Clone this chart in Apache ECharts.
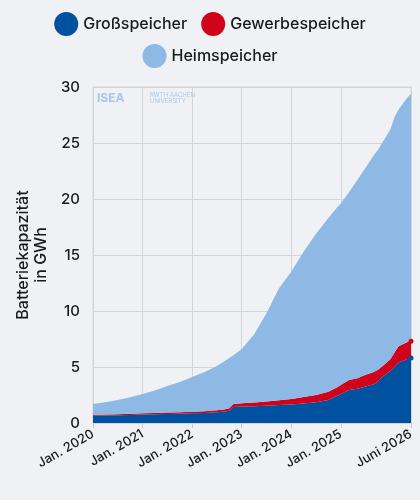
<!DOCTYPE html>
<html><head><meta charset="utf-8">
<script src="https://cdn.jsdelivr.net/npm/echarts@6/dist/echarts.min.js"></script>
<style>html,body{margin:0;padding:0;background:#f0f1f4;}#c{width:420px;height:500px;}</style>
</head><body><div id="c"></div>
<script>
// month index since Jan 2020
var months = [0,3,6,9,12,15,18,21,24,27,30,32,33,34,36,39,42,45,48,51,54,57,59,60,62,64,66,68,69,70,72,73,74,76,77];
var grossspeicher = [0.65,0.67,0.7,0.72,0.75,0.78,0.8,0.82,0.86,0.9,0.95,1.02,1.1,1.42,1.47,1.5,1.55,1.6,1.65,1.75,1.85,2.05,2.4,2.6,2.95,3.05,3.25,3.45,3.7,4.1,4.65,5.0,5.4,5.7,5.8];
var gewerbespeicher = [0.08,0.08,0.09,0.1,0.11,0.12,0.13,0.14,0.15,0.16,0.18,0.2,0.22,0.27,0.3,0.33,0.38,0.43,0.5,0.58,0.66,0.75,0.78,0.8,0.9,0.95,1.05,1.1,1.05,0.95,1.05,1.3,1.45,1.5,1.5];
var heimspeicher = [0.97,1.10,1.26,1.48,1.74,2.0,2.37,2.69,3.09,3.49,3.97,4.33,4.48,4.36,4.83,6.07,7.87,9.97,11.35,12.97,14.39,15.5,16.02,16.2,16.75,17.7,18.5,19.35,19.65,19.95,20.5,21.0,21.15,21.8,22.1];
var xTickMonths = [0,12,24,36,48,60,77];
var xTickLabels = ['Jan. 2020','Jan. 2021','Jan. 2022','Jan. 2023','Jan. 2024','Jan. 2025','Juni 2026'];
var yTicks = [0,5,10,15,20,25,30];
var MONTH_COUNT = 78;

var categories = [];
for (var k = 0; k < MONTH_COUNT; k++) categories.push(String(k));
function pairs(v){ return months.map(function(m,i){ return [m, v[i]]; }); }
function isTick(idx){ return xTickMonths.indexOf(idx) >= 0; }
var LAST = months.length - 1;
function endDot(val, p){ return p.dataIndex === LAST ? 5 : 0; }
var FONT = 'Inter, "Noto Sans", sans-serif';
var chart = echarts.init(document.getElementById('c'), null, {renderer:'canvas'});
chart.setOption({
  backgroundColor: '#f0f1f4',
  animation: false,
  textStyle: {fontFamily: FONT},
  legend: [{
    top: 7, left: 'center', itemGap: 14, icon: 'circle', itemWidth: 24, itemHeight: 24,
    textStyle: {fontSize: 16, fontWeight: 500, color: '#1a1a1a', fontFamily: FONT},
    data: ['Großspeicher','Gewerbespeicher']
  },{
    top: 39, left: 'center', icon: 'circle', itemWidth: 24, itemHeight: 24,
    textStyle: {fontSize: 16, fontWeight: 500, color: '#1a1a1a', fontFamily: FONT},
    data: ['Heimspeicher']
  }],
  grid: {left: 93, right: 9, top: 87, bottom: 77, show: true, borderColor: '#d3d4d8', borderWidth: 1},
  xAxis: {
    type: 'category', data: categories, boundaryGap: false,
    axisLine: {show: false},
    axisTick: {show: true, interval: function(i){ return isTick(i); }, length: 5, lineStyle: {color: '#c8c9cd'}},
    axisLabel: {
      interval: function(i){ return isTick(i); }, rotate: 30, fontSize: 13, fontWeight: 500, color: '#1a1a1a', margin: 10,
      formatter: function(v, i){ var j = xTickMonths.indexOf(i); return j >= 0 ? xTickLabels[j] : ''; }
    },
    splitLine: {show: true, interval: function(i){ return isTick(i); }, lineStyle: {color: '#d3d4d8', width: 1}}
  },
  yAxis: {
    type: 'value', min: 0, max: 30, interval: 5,
    name: 'Batteriekapazität\nin GWh', nameLocation: 'middle', nameGap: 41, nameRotate: 90,
    nameTextStyle: {fontSize: 16, fontWeight: 500, color: '#1a1a1a', lineHeight: 18, fontFamily: FONT},
    axisLine: {show: false}, axisTick: {show: false},
    axisLabel: {fontSize: 15, fontWeight: 500, color: '#1a1a1a', margin: 13},
    splitLine: {lineStyle: {color: '#d3d4d8', width: 1}}
  },
  series: [
    {name: 'Großspeicher', type: 'line', stack: 'total', data: pairs(grossspeicher), symbol: 'circle', symbolSize: endDot,
     lineStyle: {width: 0}, areaStyle: {color: '#00519f', opacity: 1}, itemStyle: {color: '#00519f'}},
    {name: 'Gewerbespeicher', type: 'line', stack: 'total', data: pairs(gewerbespeicher), symbol: 'circle', symbolSize: endDot,
     lineStyle: {width: 0}, areaStyle: {color: '#d0031d', opacity: 1}, itemStyle: {color: '#d0031d'}},
    {name: 'Heimspeicher', type: 'line', stack: 'total', data: pairs(heimspeicher), symbol: 'none',
     lineStyle: {width: 0}, areaStyle: {color: '#8eb9e5', opacity: 1}, itemStyle: {color: '#8eb9e5'}}
  ],
  graphic: [
    {type: 'text', left: 97, top: 92, style: {text: 'ISEA', fontSize: 12, fontWeight: 'bold', fill: '#a9c6ea', fontFamily: FONT}},
    {type: 'text', left: 150, top: 92, style: {text: 'RWTH AACHEN\nUNIVERSITY', fontSize: 6, lineHeight: 6, fill: '#a9c6ea', fontFamily: FONT}}
  ]
});
</script></body></html>
